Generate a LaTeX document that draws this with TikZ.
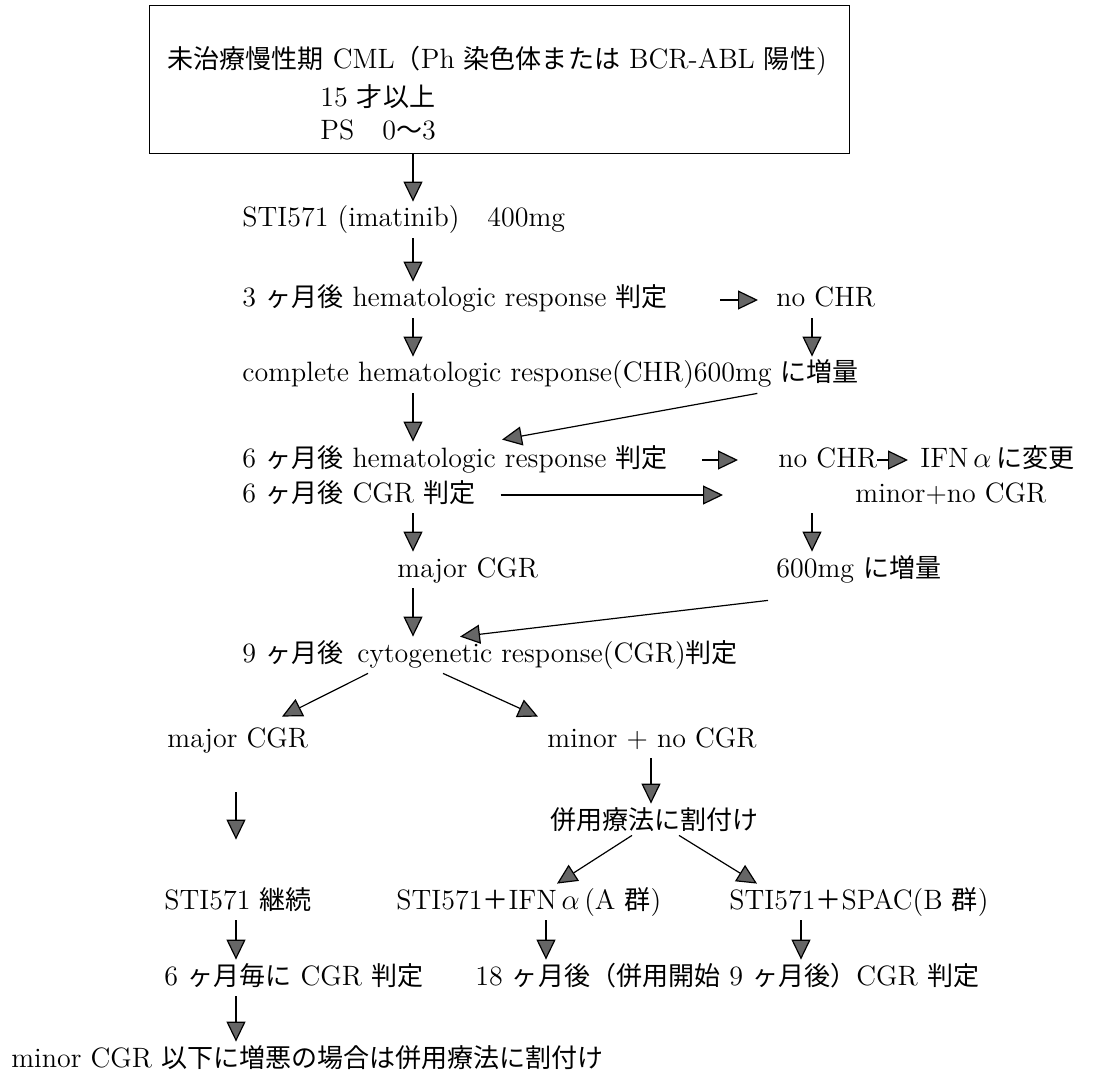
\documentclass[tikz,border=0pt]{standalone}
\usepackage{fontspec}
\newfontfamily\jpfont{Noto Sans CJK JP}[Scale=0.93]
\newcommand{\jp}[1]{{\jpfont #1}}
\usetikzlibrary{arrows.meta,calc}

\begin{document}
\begin{tikzpicture}[x=0.5pt,y=-0.5pt,
lbl/.style={
% plain text, left aligned at its point
anchor=west,inner xsep=0pt,inner ysep=3pt,
text height=9.5pt,text depth=2.5pt,
font=\fontsize{14}{16}\selectfont
},
frame/.style={
draw=black,line width=0.6pt,anchor=north west,
minimum width=350pt,minimum height=74pt,inner sep=0pt
},
flow/.style={-{Triangle[length=10pt,width=9.5pt,fill=black!60]},line width=0.6pt,draw=black}
]
\useasboundingbox (0,0) rectangle (1117,1074);
% Eligibility box:
\node[frame] (elig) at (149,5) {};
\node[lbl] (cml) at (167,62) {\jp{未治療慢性期} CML\jp{（}Ph \jp{染色体または} BCR-ABL \jp{陽性})};
\node[lbl] (age) at (320,100) {15 \jp{才以上}};
\node[lbl] (ps) at (320,133) {PS\quad 0\jp{〜}3};
% Main column:
\node[lbl] (imat) at (242,220) {STI571 (imatinib)\quad 400mg};
\node[lbl] (hr3) at (242,300) {3 \jp{ヶ月後} hematologic response \jp{判定}};
\node[lbl] (nochrA) at (776,300) {no CHR};
\node[lbl] (chr) at (242,375) {complete hematologic response(CHR)600mg \jp{に増量}};
\node[lbl] (hr6) at (242,460) {6 \jp{ヶ月後} hematologic response \jp{判定}};
\node[lbl] (nochrB) at (778,460) {no CHR};
\node[lbl] (ifn) at (920,460) {IFN\,$\alpha$\,\jp{に変更}};
\node[lbl] (cgr6) at (242,495) {6 \jp{ヶ月後} CGR \jp{判定}};
\node[lbl] (minorA) at (855,495) {minor+no CGR};
\node[lbl] (majorA) at (397,570) {major CGR};
\node[lbl] (dose) at (776,570) {600mg \jp{に増量}};
\node[lbl] (cgr9) at (242,655) {9 \jp{ヶ月後}\enspace cytogenetic response(CGR)\jp{判定}};
\node[lbl] (majorB) at (167,740) {major CGR};
\node[lbl] (minorB) at (547,740) {minor + no CGR};
\node[lbl] (assign) at (550,822) {\jp{併用療法に割付け}};
\node[lbl] (cont) at (164,902) {STI571 \jp{継続}};
\node[lbl] (armA) at (396,902) {STI571\jp{＋}IFN\,$\alpha$\,(A \jp{群})};
\node[lbl] (armB) at (729,902) {STI571\jp{＋}SPAC(B \jp{群})};
\node[lbl] (every6) at (164,978) {6 \jp{ヶ月毎に} CGR \jp{判定}};
\node[lbl] (eval18) at (475,978) {18 \jp{ヶ月後（併用開始} 9 \jp{ヶ月後）}CGR \jp{判定}};
\node[lbl] (worse) at (11,1060) {minor CGR \jp{以下に増悪の場合は併用療法に割付け}};
% Columns of the vertical arrows:
\coordinate (spine) at (413,0);
\coordinate (rside) at (812,0);
\coordinate (lcol) at (236,0);
\coordinate (mcol) at (651,0);
\coordinate (acol) at (546,0);
\coordinate (bcol) at (801,0);
\draw[flow] (elig.south -| spine) -- (imat.north -| spine);
\draw[flow] (imat.south -| spine) -- (hr3.north -| spine);
\draw[flow] (hr3.south -| spine) -- (chr.north -| spine);
\draw[flow] (nochrA.south -| rside) -- (chr.north -| rside);
\draw[flow] (chr.south -| spine) -- (hr6.north -| spine);
\draw[flow] (cgr6.south -| spine) -- (majorA.north -| spine);
\draw[flow] (minorA.south -| rside) -- (dose.north -| rside);
\draw[flow] (majorA.south -| spine) -- (cgr9.north -| spine);
\draw[flow] (minorB.south -| mcol) -- (assign.north -| mcol);
\draw[flow,shorten <=17pt,shorten >=22pt] (majorB.south -| lcol) -- (cont.north -| lcol);
\draw[flow] (cont.south -| lcol) -- (every6.north -| lcol);
\draw[flow] (armA.south -| acol) -- (eval18.north -| acol);
\draw[flow] (armB.south -| bcol) -- (eval18.north -| bcol);
\draw[flow] (every6.south -| lcol) -- (worse.north -| lcol);
% Horizontal arrows:
\draw[flow,shorten <=26pt,shorten >=9pt] (hr3.east) -- (nochrA.west);
\draw[flow,shorten <=17pt,shorten >=20pt] (hr6.east) -- (nochrB.west);
\draw[flow,shorten >=6pt] (nochrB.east) -- (ifn.west);
\draw[flow,shorten <=12.5pt,shorten >=66pt] (cgr6.east) -- (minorA.west);
% Slanted arrows:
\draw[flow] ([xshift=-51pt]chr.south east) -- ([xshift=130pt,yshift=1pt]hr6.north west);
\draw[flow] ([xshift=-4pt,yshift=-6pt]dose.south west) -- ([xshift=109pt]cgr9.north west);
\draw[flow] ([xshift=63pt]cgr9.south west) -- ([xshift=57.5pt,yshift=2.5pt]majorB.north west);
\draw[flow] ([xshift=100.5pt]cgr9.south west) -- ([xshift=-4.5pt,yshift=2.5pt]minorB.north west);
\draw[flow] ([xshift=41pt,yshift=2.5pt]assign.south west) -- ([xshift=80.5pt]armA.north west);
\draw[flow] ([xshift=64.5pt,yshift=2.5pt]assign.south west) -- ([xshift=14pt]armB.north west);
\end{tikzpicture}
\end{document}
